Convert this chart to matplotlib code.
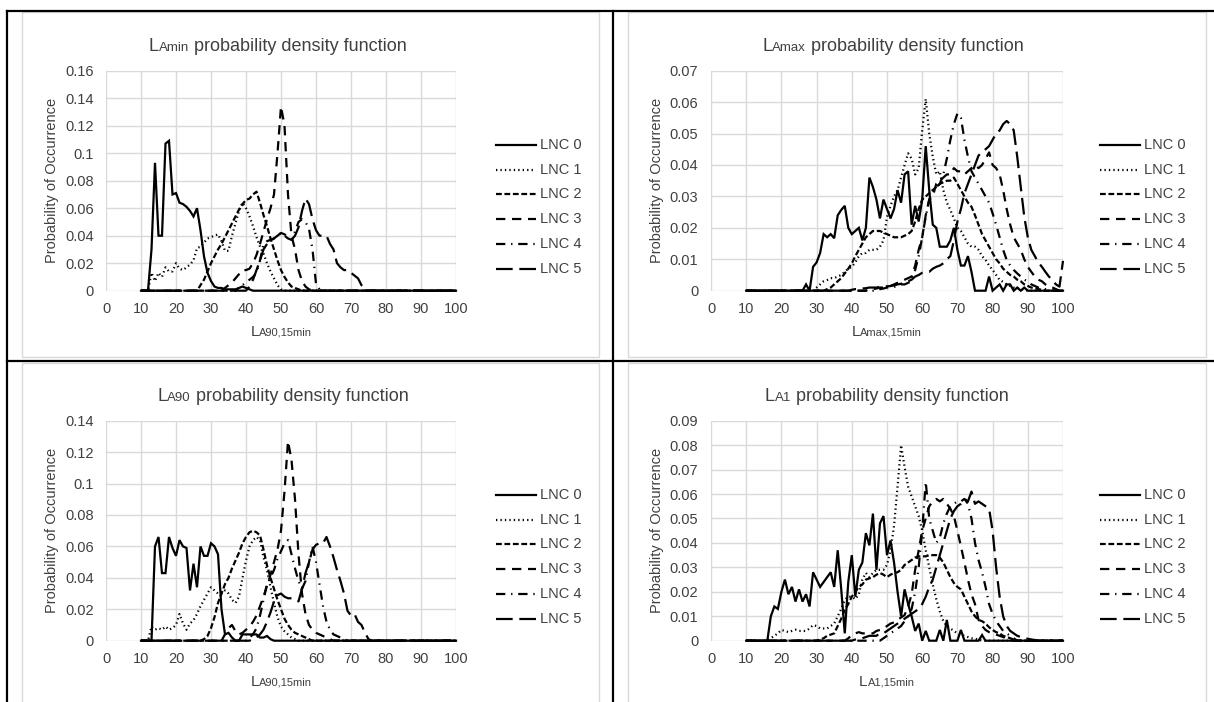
import matplotlib
matplotlib.use("Agg")
import matplotlib.pyplot as plt
from matplotlib.lines import Line2D
from matplotlib.patches import Rectangle
import numpy as np

plt.rcParams['font.family'] = ['Liberation Sans', 'DejaVu Sans']

W, H = 1214, 702
TEXT = '#404040'
GRID = '#d9d9d9'

# sound level bins (dB), one probability per bin
x_first, x_last = 10, 100
bins = np.arange(x_first, x_last + 1)

lnc_labels = ['LNC 0', 'LNC 1', 'LNC 2', 'LNC 3', 'LNC 4', 'LNC 5']

# --- LAmin: first bin of each series, then the values from there on ---
lamin_starts = [10, 12, 26, 33, 37, 40]
lamin_lnc0 = [0, 0, 0, 0.03, 0.093, 0.04, 0.04, 0.107, 0.109, 0.07, 0.071, 0.064, 0.063,
              0.061, 0.058, 0.054, 0.06, 0.044, 0.025, 0.013, 0.007, 0.003, 0.002, 0.002,
              0.001, 0.001, 0.001, 0.001, 0.002, 0.003, 0.002, 0.001]
lamin_lnc1 = [0, 0.013, 0.007, 0.013, 0.01, 0.017, 0.014, 0.014, 0.02, 0.016, 0.015, 0.017,
              0.019, 0.022, 0.031, 0.032, 0.035, 0.038, 0.039, 0.04, 0.041, 0.036, 0.029,
              0.029, 0.04, 0.049, 0.058, 0.064, 0.06, 0.054, 0.047, 0.039, 0.032, 0.027,
              0.02, 0.014, 0.009, 0.004, 0.001]
lamin_lnc2 = [0, 0.004, 0.008, 0.014, 0.02, 0.025, 0.03, 0.034, 0.039, 0.044, 0.049, 0.054,
              0.059, 0.063, 0.066, 0.067, 0.07, 0.072, 0.064, 0.055, 0.047, 0.038, 0.03,
              0.022, 0.015, 0.01, 0.006, 0.003, 0.002, 0.001]
lamin_lnc3 = [0, 0.002, 0.004, 0.006, 0.009, 0.012, 0.015, 0.015, 0.016, 0.02, 0.026, 0.034,
              0.043, 0.052, 0.06, 0.07, 0.1, 0.134, 0.12, 0.07, 0.04, 0.03, 0.015, 0.007,
              0.003, 0.001]
lamin_lnc4 = [0, 0.002, 0.004, 0.006, 0.008, 0.01, 0.013, 0.022, 0.034, 0.036, 0.037, 0.038,
              0.04, 0.042, 0.04, 0.038, 0.037, 0.043, 0.05, 0.052, 0.05, 0.045, 0.03, 0.005,
              0.001]
lamin_lnc5 = [0, 0.003, 0.008, 0.015, 0.022, 0.03, 0.034, 0.036, 0.038, 0.04, 0.042, 0.041,
              0.039, 0.037, 0.04, 0.046, 0.058, 0.067, 0.063, 0.052, 0.044, 0.04, 0.04, 0.04,
              0.034, 0.03, 0.02, 0.017, 0.015, 0.015, 0.013, 0.011, 0.009, 0.004, 0.001]

# --- LAmax ---
lamax_starts = [26, 29, 32, 44, 47, 39]
lamax_lnc0 = [0, 0.002, 0, 0.0076, 0.009, 0.012, 0.018, 0.017, 0.018, 0.0167, 0.024, 0.0257,
              0.027, 0.02, 0.018, 0.019, 0.02, 0.016, 0.02, 0.036, 0.033, 0.029, 0.023, 0.029,
              0.026, 0.023, 0.026, 0.032, 0.028, 0.037, 0.038, 0.021, 0.027, 0.022, 0.029,
              0.046, 0.032, 0.021, 0.02, 0.014, 0.014, 0.014, 0.016, 0.02, 0.013, 0.008,
              0.008, 0.011, 0.006, 0, 0, 0, 0, 0.0045, 0, 0.001, 0.002, 0, 0.002, 0.002, 0,
              0.001, 0, 0.001]
lamax_lnc1 = [0, 0.001, 0.002, 0.003, 0.0034, 0.004, 0.004, 0.0045, 0.005, 0.006, 0.007,
              0.0076, 0.009, 0.011, 0.012, 0.012, 0.013, 0.013, 0.013, 0.014, 0.016, 0.0235,
              0.027, 0.03, 0.032, 0.036, 0.04, 0.0437, 0.042, 0.037, 0.039, 0.051, 0.061,
              0.05, 0.0426, 0.037, 0.038, 0.032, 0.028, 0.0257, 0.023, 0.02, 0.019, 0.017,
              0.015, 0.014, 0.014, 0.013, 0.011, 0.0098, 0.008, 0.0066, 0.005, 0.0034,
              0.0028, 0.002, 0.0015, 0.001, 0.0008, 0.0005, 0.0003]
lamax_lnc2 = [0, 0.0005, 0.001, 0.002, 0.003, 0.004, 0.0055, 0.007, 0.0087, 0.011, 0.013,
              0.015, 0.017, 0.018, 0.019, 0.019, 0.019, 0.0185, 0.018, 0.0175, 0.017, 0.017,
              0.017, 0.0175, 0.018, 0.019, 0.022, 0.026, 0.029, 0.03, 0.031, 0.032, 0.033,
              0.034, 0.0345, 0.035, 0.035, 0.036, 0.034, 0.032, 0.03, 0.028, 0.0267, 0.024,
              0.021, 0.018, 0.016, 0.014, 0.012, 0.01, 0.0087, 0.007, 0.006, 0.005, 0.0045,
              0.0035, 0.003, 0.002, 0.0015, 0.001, 0.0008, 0.0005, 0.0003]
lamax_lnc3 = [0, 0.0005, 0.0005, 0.0007, 0.001, 0.001, 0.0012, 0.0015, 0.002, 0.0025, 0.003,
              0.0035, 0.004, 0.0045, 0.008, 0.013, 0.017, 0.024, 0.029, 0.03, 0.034, 0.035,
              0.036, 0.037, 0.037, 0.039, 0.038, 0.038, 0.037, 0.038, 0.039, 0.04, 0.039,
              0.04, 0.042, 0.044, 0.04, 0.039, 0.037, 0.032, 0.026, 0.021, 0.017, 0.015,
              0.013, 0.01, 0.0076, 0.006, 0.0045, 0.0035, 0.003, 0.002, 0.0013, 0.001, 0.0005]
lamax_lnc4 = [0, 0.0005, 0.0007, 0.001, 0.001, 0.0012, 0.0015, 0.002, 0.002, 0.0025, 0.003,
              0.0066, 0.011, 0.017, 0.0235, 0.029, 0.032, 0.033, 0.034, 0.037, 0.042, 0.048,
              0.053, 0.0564, 0.055, 0.048, 0.0426, 0.038, 0.036, 0.034, 0.032, 0.03, 0.028,
              0.0246, 0.021, 0.017, 0.013, 0.0098, 0.008, 0.0066, 0.0055, 0.0045, 0.0035,
              0.003, 0.002, 0.0015, 0.001, 0.0008, 0.0005]
lamax_lnc5 = [0, 0.0003, 0.0005, 0.0005, 0.0007, 0.0008, 0.001, 0.001, 0.001, 0.0012, 0.0013,
              0.0014, 0.0015, 0.0017, 0.002, 0.0022, 0.0025, 0.003, 0.0035, 0.0045, 0.005,
              0.0057, 0.006, 0.006, 0.007, 0.0076, 0.008, 0.0087, 0.01, 0.011, 0.016, 0.022,
              0.026, 0.031, 0.034, 0.037, 0.04, 0.043, 0.044, 0.045, 0.046, 0.048, 0.05,
              0.051, 0.053, 0.054, 0.053, 0.051, 0.0426, 0.033, 0.0235, 0.017, 0.013, 0.011,
              0.009, 0.0076, 0.006, 0.0045, 0.0034, 0.002, 0.0013, 0.0095]

# --- LA90 ---
la90_starts = [12, 12, 27, 33, 40, 41]
la90_lnc0 = [0, 0, 0.06, 0.066, 0.043, 0.043, 0.066, 0.059, 0.054, 0.064, 0.06, 0.059, 0.032,
             0.049, 0.034, 0.06, 0.054, 0.054, 0.062, 0.06, 0.055, 0.02, 0.004, 0.005, 0.002,
             0, 0, 0.004, 0.004, 0.004, 0.004, 0.004, 0.002, 0.002, 0.003, 0.001]
la90_lnc1 = [0, 0.009, 0.007, 0.008, 0.007, 0.009, 0.007, 0.008, 0.01, 0.017, 0.011, 0.007,
             0.011, 0.013, 0.017, 0.022, 0.026, 0.03, 0.034, 0.032, 0.03, 0.03, 0.032, 0.03,
             0.026, 0.024, 0.028, 0.04, 0.051, 0.06, 0.064, 0.066, 0.064, 0.053, 0.045, 0.034,
             0.024, 0.015, 0.009, 0.006, 0.004, 0.002, 0.001]
la90_lnc2 = [0, 0.001, 0.003, 0.008, 0.015, 0.024, 0.03, 0.036, 0.04, 0.046, 0.051, 0.056,
             0.062, 0.066, 0.069, 0.07, 0.069, 0.067, 0.058, 0.048, 0.04, 0.033, 0.026, 0.02,
             0.014, 0.01, 0.007, 0.005, 0.004, 0.003, 0.002, 0.001]
la90_lnc3 = [0, 0.004, 0.008, 0.01, 0.006, 0.004, 0.005, 0.007, 0.009, 0.012, 0.016, 0.022,
             0.028, 0.035, 0.042, 0.05, 0.058, 0.07, 0.095, 0.127, 0.115, 0.09, 0.055, 0.03,
             0.017, 0.01, 0.007, 0.005, 0.004, 0.003, 0.002, 0.001]
la90_lnc4 = [0, 0.002, 0.004, 0.008, 0.016, 0.026, 0.036, 0.04, 0.045, 0.052, 0.057, 0.062,
             0.064, 0.055, 0.046, 0.038, 0.033, 0.038, 0.05, 0.06, 0.05, 0.036, 0.022, 0.012,
             0.007, 0.004, 0.003, 0.002, 0.001]
la90_lnc5 = [0, 0.001, 0.002, 0.004, 0.007, 0.012, 0.018, 0.025, 0.029, 0.03, 0.028, 0.027,
             0.027, 0.026, 0.025, 0.033, 0.043, 0.05, 0.058, 0.061, 0.062, 0.062, 0.066, 0.06,
             0.053, 0.045, 0.038, 0.03, 0.019, 0.016, 0.017, 0.012, 0.01, 0.005, 0.001]

# --- LA1 ---
la1_starts = [15, 16, 30, 38, 48, 40]
la1_lnc0 = [0, 0, 0.01, 0.014, 0.013, 0.02, 0.025, 0.019, 0.022, 0.016, 0.021, 0.016, 0.019,
            0.014, 0.028, 0.025, 0.022, 0.024, 0.026, 0.028, 0.022, 0.037, 0.021, 0.003,
            0.024, 0.035, 0.018, 0.029, 0.032, 0.044, 0.039, 0.052, 0.029, 0.048, 0.051,
            0.035, 0.041, 0.032, 0.02, 0.01, 0.021, 0.015, 0.01, 0.004, 0.007, 0, 0.004, 0,
            0, 0, 0.0044, 0, 0.0085, 0, 0, 0, 0.0044, 0, 0, 0, 0, 0, 0.0023]
la1_lnc1 = [0, 0.001, 0.002, 0.003, 0.0044, 0.004, 0.0035, 0.004, 0.0045, 0.004, 0.004,
            0.004, 0.005, 0.0064, 0.006, 0.005, 0.005, 0.005, 0.006, 0.007, 0.01, 0.013,
            0.0167, 0.018, 0.018, 0.017, 0.019, 0.025, 0.0277, 0.026, 0.0277, 0.029, 0.029,
            0.029, 0.031, 0.037, 0.047, 0.063, 0.08, 0.071, 0.063, 0.059, 0.055, 0.051, 0.045,
            0.037, 0.03, 0.023, 0.017, 0.012, 0.008, 0.006, 0.005, 0.004, 0.003, 0.0025,
            0.002, 0.0015, 0.001, 0.0008, 0.0005]
la1_lnc2 = [0, 0.0005, 0.001, 0.002, 0.0025, 0.003, 0.006, 0.009, 0.0126, 0.015, 0.018, 0.02,
            0.022, 0.023, 0.025, 0.0255, 0.026, 0.027, 0.0277, 0.027, 0.026, 0.027, 0.0277,
            0.028, 0.029, 0.031, 0.032, 0.033, 0.034, 0.0345, 0.0345, 0.0345, 0.035, 0.035,
            0.035, 0.034, 0.032, 0.029, 0.026, 0.0236, 0.022, 0.021, 0.018, 0.015, 0.012,
            0.01, 0.0085, 0.008, 0.007, 0.0055, 0.0044, 0.0035, 0.003, 0.002, 0.0015, 0.001,
            0.0005]
la1_lnc3 = [0, 0.001, 0.0023, 0.003, 0.0035, 0.003, 0.003, 0.003, 0.003, 0.004, 0.0044, 0.005,
            0.006, 0.007, 0.0075, 0.0085, 0.0095, 0.0105, 0.014, 0.019, 0.029, 0.037, 0.045,
            0.05, 0.055, 0.057, 0.058, 0.057, 0.058, 0.056, 0.054, 0.051, 0.045, 0.0386, 0.032,
            0.025, 0.019, 0.015, 0.0085, 0.006, 0.0044, 0.0035, 0.003, 0.0025, 0.002, 0.0015,
            0.001, 0.0005]
la1_lnc4 = [0, 0.001, 0.002, 0.003, 0.004, 0.005, 0.006, 0.008, 0.01, 0.013, 0.02, 0.03,
            0.045, 0.065, 0.05, 0.045, 0.04, 0.042, 0.048, 0.052, 0.055, 0.056, 0.057, 0.057,
            0.058, 0.056, 0.05, 0.04, 0.033, 0.028, 0.022, 0.015, 0.011, 0.008, 0.006, 0.004,
            0.003, 0.002, 0.001]
la1_lnc5 = [0, 0.0005, 0.001, 0.001, 0.0015, 0.002, 0.002, 0.002, 0.003, 0.003, 0.004, 0.005,
            0.006, 0.007, 0.008, 0.009, 0.01, 0.011, 0.012, 0.013, 0.015, 0.018, 0.022, 0.025,
            0.03, 0.035, 0.04, 0.045, 0.05, 0.053, 0.055, 0.056, 0.058, 0.057, 0.061, 0.056,
            0.057, 0.056, 0.055, 0.054, 0.045, 0.03, 0.018, 0.01, 0.006, 0.004, 0.003, 0.002,
            0.0015, 0.001, 0.0008, 0.0005, 0.0003]

# line styles for LNC 0..5 (Excel: solid, round dot, sys dash, dash, dash-dot, long dash)
line_styles = ['-', (0, (0.6, 1.4)), (0, (2.6, 1.2)), (0, (4.2, 3.0)),
               (0, (4.2, 2.6, 0.6, 2.6)), (0, (7.5, 3.0))]


def full_series(start, values):
    y = np.zeros(len(bins))
    i = start - x_first
    y[i:i + len(values)] = values
    return y


def fx(px):
    return px / W


def fy(py):
    return 1 - py / H


def add_parts(cx, cy, parts):
    """Write a run of text pieces with different sizes, centred on (cx, cy) pixels."""
    renderer = fig.canvas.get_renderer()
    pieces = [fig.text(0, fy(cy), t, fontsize=s, color=TEXT, ha='left', va='baseline')
              for t, s in parts]
    widths = [p.get_window_extent(renderer).width for p in pieces]
    x = cx - sum(widths) / 2
    for p, w in zip(pieces, widths):
        p.set_x(fx(x))
        x += w


fig = plt.figure(figsize=(W / 100, H / 100), dpi=100)
fig.patch.set_facecolor('white')

# chart-area frames and the table rules around the four charts
for (l, t, r, b) in [(22, 12, 599, 357), (628, 12, 1206, 357),
                     (22, 363, 599, 710), (628, 363, 1206, 710)]:
    fig.add_artist(Rectangle((fx(l), fy(b)), fx(r - l), (b - t) / H, transform=fig.transFigure,
                             facecolor='none', edgecolor=GRID, lw=1.0))
for xs, ys in [((7, 1214), (11, 11)), ((7, 1214), (361, 361)),
               ((7, 7), (11, 702)), ((613, 613), (11, 702))]:
    fig.add_artist(Line2D([fx(v) for v in xs], [fy(v) for v in ys], transform=fig.transFigure,
                          color='black', lw=1.6))

panels = [
    dict(rect=(106, 70.7, 456, 290.7), ymax=0.16, ystep=0.02,
         starts=lamin_starts,
         series=[lamin_lnc0, lamin_lnc1, lamin_lnc2, lamin_lnc3, lamin_lnc4, lamin_lnc5],
         title=[('L', 13), ('Amin', 9.5), (' probability density function', 13)], title_x=278,
         xlabel=[('L', 11), ('A90,15min', 8)], legend_x=496),
    dict(rect=(711, 70.7, 1063, 290.7), ymax=0.07, ystep=0.01,
         starts=lamax_starts,
         series=[lamax_lnc0, lamax_lnc1, lamax_lnc2, lamax_lnc3, lamax_lnc4, lamax_lnc5],
         title=[('L', 13), ('Amax', 9.5), (' probability density function', 13)], title_x=893,
         xlabel=[('L', 11), ('Amax,15min', 8)], legend_x=1100),
    dict(rect=(106, 420.7, 456, 640.7), ymax=0.14, ystep=0.02,
         starts=la90_starts,
         series=[la90_lnc0, la90_lnc1, la90_lnc2, la90_lnc3, la90_lnc4, la90_lnc5],
         title=[('L', 13), ('A90', 9.5), (' probability density function', 13)], title_x=283,
         xlabel=[('L', 11), ('A90,15min', 8)], legend_x=496),
    dict(rect=(711, 420.7, 1063, 640.7), ymax=0.09, ystep=0.01,
         starts=la1_starts,
         series=[la1_lnc0, la1_lnc1, la1_lnc2, la1_lnc3, la1_lnc4, la1_lnc5],
         title=[('L', 13), ('A1', 9.5), (' probability density function', 13)], title_x=887,
         xlabel=[('L', 11), ('A1,15min', 8)], legend_x=1100),
]

for p in panels:
    l, t, r, b = p['rect']
    ax = fig.add_axes([fx(l), fy(b), fx(r - l), (b - t) / H])
    for start, vals, ls in zip(p['starts'], p['series'], line_styles):
        ax.plot(bins, full_series(start, vals), color='black', lw=1.6, linestyle=ls,
                dash_capstyle='butt', solid_joinstyle='miter', clip_on=False)
    ax.set_xlim(0, 100)
    ax.set_ylim(0, p['ymax'])
    ax.set_xticks(np.arange(0, 101, 10))
    yt = np.arange(0, p['ymax'] + p['ystep'] / 2, p['ystep'])
    ax.set_yticks(yt)
    ax.set_yticklabels([f"{round(v, 3):g}" for v in yt])
    ax.grid(True, color=GRID, lw=1.0)
    ax.set_axisbelow(True)
    for s in ax.spines.values():
        s.set_visible(False)
    ax.tick_params(length=0, labelsize=10.5, labelcolor=TEXT)
    ax.tick_params(axis='x', pad=8)
    ax.tick_params(axis='y', pad=9)

    # axis titles and chart title
    fig.text(fx(l - 54), fy((t + b) / 2), 'Probability of Occurrence', rotation=90,
             fontsize=10.5, color=TEXT, ha='center', va='center')
    add_parts((l + r) / 2, b + 45, p['xlabel'])
    add_parts(p['title_x'], t - 20, p['title'])

    # legend keys at the right of the plot
    lx = p['legend_x']
    for i, (lab, ls) in enumerate(zip(lnc_labels, line_styles)):
        yy = t + 74 + i * 24.8
        fig.add_artist(Line2D([fx(lx), fx(lx + 40)], [fy(yy), fy(yy)], transform=fig.transFigure,
                              color='black', lw=1.6, linestyle=ls, dash_capstyle='butt'))
        fig.text(fx(lx + 44), fy(yy), lab, fontsize=10.5, color=TEXT, ha='left', va='center')

fig.savefig('out.png', dpi=100, facecolor='white')
